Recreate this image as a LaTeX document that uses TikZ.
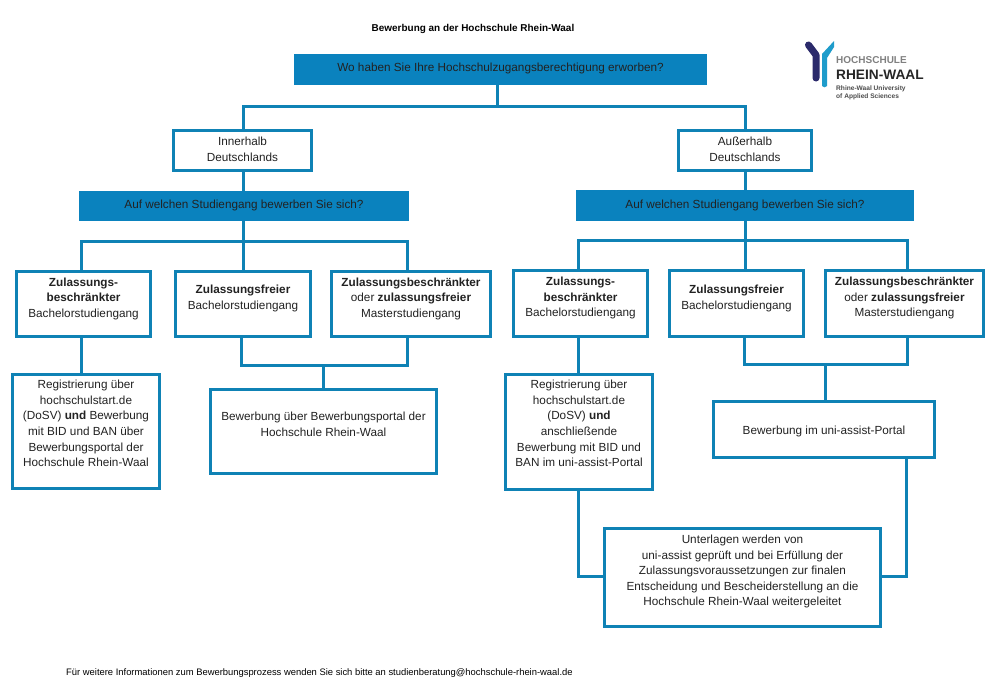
\documentclass[tikz,border=0pt]{standalone}
\usepackage{fontspec}
\setmainfont{Liberation Sans}
\definecolor{hsline}{HTML}{0F82B5}
\definecolor{hsfill}{HTML}{0A82BE}
\definecolor{hstext}{HTML}{222222}
\definecolor{hsnavy}{HTML}{2B2A6B}
\definecolor{hssky}{HTML}{1E9CCB}
\tikzset{
  every node/.style={font=\fontsize{11.75}{15.55}\selectfont, text=hstext, align=center, inner sep=0pt},
  whitebox/.style={draw=hsline, line width=3pt, fill=white},
  bluebox/.style={fill=hsfill},
  conn/.style={draw=hsline, line width=3pt},
  lifted/.style={text depth=#1}
}
\begin{document}
\begin{tikzpicture}[x=1pt,y=-1pt]
\useasboundingbox (0,0) rectangle (990,699);
\fill[white] (0,0) rectangle (990,699);

\coordinate (j0) at (497,106);
\coordinate (j1) at (243,241);
\coordinate (j2) at (745,240);
\coordinate (j3) at (323,365);
\coordinate (j4) at (825,364);
\coordinate (j5) at (578,576);
\coordinate (j6) at (906,576);

\node[bluebox, minimum width=413pt, minimum height=31pt, lifted=4pt] (q) at (500.5,69.5) {Wo haben Sie Ihre Hochschulzugangsberechtigung erworben?};
\node[whitebox, minimum width=138pt, minimum height=40pt, lifted=3pt] (in) at (242.5,150.5) {Innerhalb\\Deutschlands};
\node[whitebox, minimum width=133pt, minimum height=40pt, lifted=3pt] (out) at (745,150.5) {Außerhalb\\Deutschlands};
\node[bluebox, minimum width=330pt, minimum height=30pt, lifted=3.5pt] (b1) at (244,206) {Auf welchen Studiengang bewerben Sie sich?};
\node[bluebox, minimum width=338pt, minimum height=31pt] (b2) at (745,205.5) {Auf welchen Studiengang bewerben Sie sich?};

\node[whitebox, minimum width=134pt, minimum height=65pt, lifted=13pt] (z1) at (83.5,304) {\textbf{Zulassungs-}\\\textbf{beschränkter}\\Bachelorstudiengang};
\node[whitebox, minimum width=135pt, minimum height=65pt, lifted=13pt] (z2) at (243,304) {\textbf{Zulassungsfreier}\\Bachelorstudiengang};
\node[whitebox, minimum width=159pt, minimum height=65pt, lifted=13pt] (z3) at (411,304) {\textbf{Zulassungsbeschränkter}\\oder \textbf{zulassungsfreier}\\Masterstudiengang};
\node[whitebox, minimum width=147pt, minimum height=114pt, lifted=16pt] (r1) at (86,431.5) {Registrierung über\\hochschulstart.de\\(DoSV) \textbf{und} Bewerbung\\mit BID und BAN über\\Bewerbungsportal der\\Hochschule Rhein-Waal};
\node[whitebox, minimum width=226pt, minimum height=84pt, lifted=14pt] (r2) at (323.5,431.5) {Bewerbung über Bewerbungsportal der\\Hochschule Rhein-Waal};

\node[whitebox, minimum width=134pt, minimum height=66pt, lifted=13pt] (y1) at (580.5,303.5) {\textbf{Zulassungs-}\\\textbf{beschränkter}\\Bachelorstudiengang};
\node[whitebox, minimum width=134pt, minimum height=66pt, lifted=13pt] (y2) at (736.5,303.5) {\textbf{Zulassungsfreier}\\Bachelorstudiengang};
\node[whitebox, minimum width=158pt, minimum height=66pt, lifted=13pt] (y3) at (904.5,303.5) {\textbf{Zulassungsbeschränkter}\\oder \textbf{zulassungsfreier}\\Masterstudiengang};
\node[whitebox, minimum width=147pt, minimum height=115pt, lifted=17pt] (s1) at (579,432) {Registrierung über\\hochschulstart.de\\(DoSV) \textbf{und}\\anschließende\\Bewerbung mit BID und\\BAN im uni-assist-Portal};
\node[whitebox, minimum width=221pt, minimum height=56pt, text height=13pt] (s2) at (824,429.5) {Bewerbung im uni-assist-Portal};
\node[whitebox, minimum width=276pt, minimum height=98pt, lifted=14pt] (f) at (742.5,577.5) {Unterlagen werden von\\uni-assist geprüft und bei Erfüllung der\\Zulassungsvoraussetzungen zur finalen\\Entscheidung und Bescheiderstellung an die\\Hochschule Rhein-Waal weitergeleitet};

\draw[conn] (q.south -| j0) -- (j0);
\draw[conn] (in.north -| j1) |- (j0) -| (out.north -| j2);
\draw[conn] (in.south -| j1) -- (b1.north -| j1);
\draw[conn] (out.south -| j2) -- (b2.north -| j2);

\draw[conn] (b1.south -| j1) -- (z2.north -| j1);
\draw[conn] (z1.north -| 81,0) |- (j1) -| (z3.north -| 407,0);
\draw[conn] (z1.south -| 81,0) -- (r1.north -| 81,0);
\draw[conn] (z2.south -| 241,0) |- (j3) -| (z3.south -| 407,0);
\draw[conn] (j3) -- (r2.north -| j3);

\draw[conn] (b2.south -| j2) -- (y2.north -| j2);
\draw[conn] (y1.north -| 578,0) |- (j2) -| (y3.north -| 907,0);
\draw[conn] (y1.south -| 578,0) -- (s1.north -| 578,0);
\draw[conn] (y2.south -| 744,0) |- (j4) -| (y3.south -| 907,0);
\draw[conn] (j4) -- (s2.north -| j4);
\draw[conn] (s1.south -| j5) |- (f.west |- j5);
\draw[conn] (s2.south -| j6) |- (f.east |- j6);

\node[font=\fontsize{9.95}{12}\selectfont\bfseries, text=black] (title) at (473,28.5) {Bewerbung an der Hochschule Rhein-Waal};
\node[font=\fontsize{9.4}{11}\selectfont, text=black, anchor=west] (foot) at (66,673) {Für weitere Informationen zum Bewerbungsprozess wenden Sie sich bitte an studienberatung@hochschule-rhein-waal.de};

\coordinate (la) at (808.5,45);
\coordinate (lb) at (816,55);
\coordinate (lc) at (816,78);
\draw[hsnavy, line width=7pt, line cap=round, line join=round] (la) -- (lb) -- (lc);
\fill[hssky] (834,41) -- (834,47) -- (827,58) -- (827,86) to[bend left=60] (822,86) -- (822,54) -- cycle;
\node[font=\fontsize{10}{10}\selectfont\bfseries, text=gray, anchor=west] (l1) at (836,60.5) {HOCHSCHULE};
\node[font=\fontsize{13.7}{14}\selectfont\bfseries, text=black!85, anchor=west] (l2) at (836,75) {RHEIN-WAAL};
\node[font=\fontsize{6.6}{7.6}\selectfont\bfseries, text=black!70, align=left, anchor=west] (l3) at (836,92.5) {Rhine-Waal University\\of Applied Sciences};
\end{tikzpicture}
\end{document}
